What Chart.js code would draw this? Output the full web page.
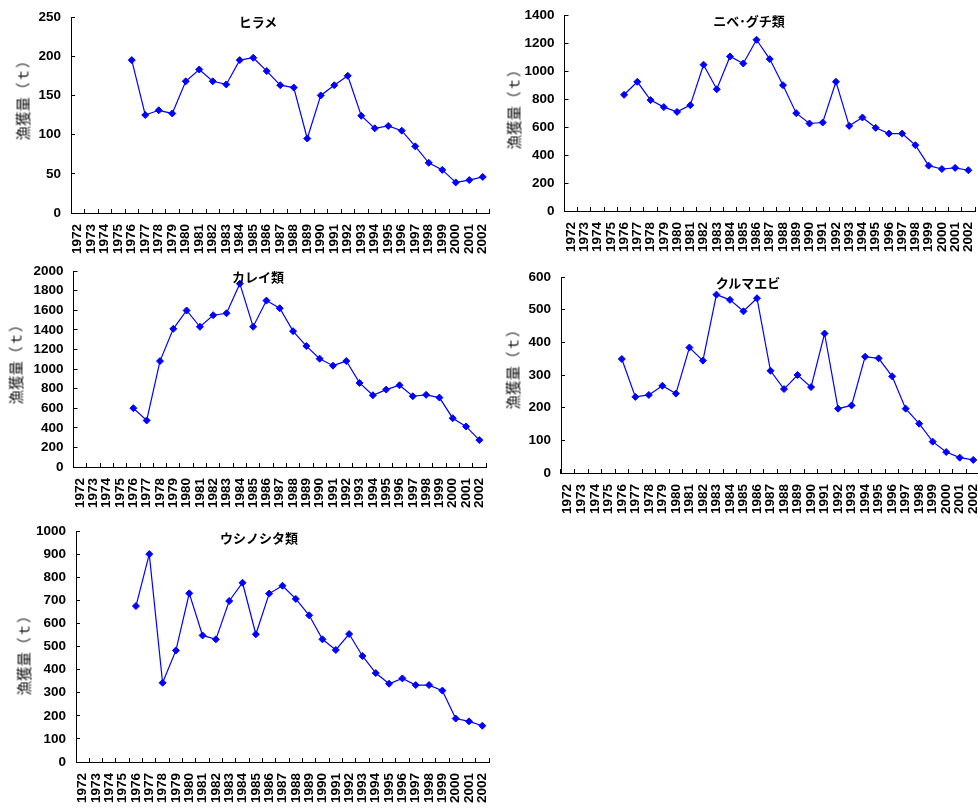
<!DOCTYPE html>
<html lang="ja">
<head>
<meta charset="utf-8">
<title>漁獲量の推移</title>
<script src="https://cdn.jsdelivr.net/npm/chart.js@4.4.1/dist/chart.umd.min.js"></script>
<style>
  html, body { margin: 0; padding: 0; background: #fff; overflow: hidden; }
  body { width: 978px; height: 812px; position: relative; }
  .box { position: absolute; }
  .box canvas { display: block; }
  .title {
    position: absolute; transform: translate(-50%, -50%); white-space: nowrap;
    font: bold 13px 'Noto Sans CJK JP', sans-serif; color: #000;
  }
  .ytitle {
    position: absolute; transform: translate(-50%, -50%) rotate(-90deg); white-space: nowrap;
    font: 14.5px 'Noto Sans CJK JP', sans-serif; color: #111;
  }
</style>
</head>
<body>
<script>
// ====================
// データ (1972〜2002年, 単位: t)
// ====================
const years = ['1972', '1973', '1974', '1975', '1976', '1977', '1978', '1979', '1980', '1981',
  '1982', '1983', '1984', '1985', '1986', '1987', '1988', '1989', '1990', '1991',
  '1992', '1993', '1994', '1995', '1996', '1997', '1998', '1999', '2000', '2001', '2002'];

const hirame = [null, null, null, null, 195, 125, 131, 127, 168, 183,
  168, 164, 195, 198, 181, 163, 160, 95, 150, 163,
  175, 124, 108, 111, 105, 85, 64, 55, 39, 42, 46];

const nibeGuchi = [null, null, null, null, 830, 923, 792, 742, 708, 756,
  1045, 870, 1104, 1054, 1223, 1085, 899, 699, 625, 632,
  923, 608, 668, 594, 553, 553, 470, 324, 300, 308, 291];

const karei = [null, null, null, null, 600, 475, 1081, 1410, 1597, 1431,
  1549, 1569, 1871, 1431, 1698, 1620, 1386, 1234, 1105, 1034,
  1081, 858, 732, 790, 834, 722, 736, 708, 498, 414, 275];

const kurumaEbi = [null, null, null, null, 349, 233, 239, 267, 243, 384,
  344, 546, 530, 495, 535, 313, 257, 300, 263, 427,
  197, 207, 356, 351, 296, 197, 151, 96, 64, 47, 40];

const ushinoshita = [null, null, null, null, 675, 900, 343, 483, 730, 548,
  531, 697, 776, 553, 729, 763, 706, 635, 531, 485,
  554, 459, 385, 339, 362, 333, 333, 309, 188, 176, 157];

const yTitle = '漁獲量（ｔ）';

// ====================
// パネル定義 (位置・軸範囲)
// ====================
const panels = [
  { name: 'ヒラメ', data: hirame, max: 250, step: 50,
    box: [0, 0, 495, 265], yW: 71, padT: 17, padR: 5.5, xH: 52, title: [258, 21], ytitle: [22, 97] },
  { name: 'ニベ･グチ類', data: nibeGuchi, max: 1400, step: 200,
    box: [490, 0, 490, 265], yW: 74.5, padT: 15, padR: 2, xH: 54, title: [749, 20], ytitle: [513, 106] },
  { name: 'カレイ類', data: karei, max: 2000, step: 200,
    box: [0, 260, 492, 265], yW: 73.5, padT: 11, padR: 6, xH: 58, title: [258, 276], ytitle: [15, 361] },
  { name: 'クルマエビ', data: kurumaEbi, max: 600, step: 100,
    box: [490, 265, 495, 260], yW: 71, padT: 12, padR: 4, xH: 52, title: [748, 282], ytitle: [512, 366] },
  { name: 'ウシノシタ類', data: ushinoshita, max: 1000, step: 100,
    box: [0, 515, 495, 297], yW: 76, padT: 16, padR: 6, xH: 50, title: [259, 537], ytitle: [23, 652] }
];

const tickFont = { family: "'Liberation Sans', Arial, sans-serif", size: 13.5, weight: 'bold' };

function addText(cls, text, pos) {
  const el = document.createElement('div');
  el.className = cls;
  el.textContent = text;
  el.style.left = pos[0] + 'px';
  el.style.top = pos[1] + 'px';
  document.body.appendChild(el);
}

// 折れ線グラフを1枚描画する
function drawPanel(p) {
  const box = document.createElement('div');
  box.className = 'box';
  box.style.left = p.box[0] + 'px';
  box.style.top = p.box[1] + 'px';
  const canvas = document.createElement('canvas');
  canvas.width = p.box[2];
  canvas.height = p.box[3];
  box.appendChild(canvas);
  document.body.appendChild(box);

  new Chart(canvas, {
    type: 'line',
    data: {
      labels: years,
      datasets: [{
        label: p.name,
        data: p.data,
        borderColor: '#0000ff',
        borderWidth: 1.2,
        tension: 0,
        pointStyle: 'rectRot',
        pointRadius: 3.5,
        pointBackgroundColor: '#0000ff',
        pointBorderColor: '#0000ff',
        pointBorderWidth: 1
      }]
    },
    options: {
      responsive: false,
      animation: false,
      devicePixelRatio: 1,
      layout: { padding: { top: p.padT, right: p.padR, left: 0, bottom: 0 } },
      plugins: { legend: { display: false }, tooltip: { enabled: false }, title: { display: false } },
      scales: {
        x: {
          type: 'category',
          offset: true,
          grid: { offset: true, drawOnChartArea: false, drawTicks: true, tickLength: -4, color: '#000', lineWidth: 1 },
          border: { display: true, color: '#000', width: 1 },
          ticks: { autoSkip: false, minRotation: 90, maxRotation: 90, padding: 15, color: '#000', font: tickFont },
          afterFit: s => { s.height = p.xH; s.paddingLeft = 0; s.paddingRight = 0; }
        },
        y: {
          min: 0,
          max: p.max,
          ticks: { stepSize: p.step, padding: 14, color: '#000', font: tickFont, callback: v => String(v) },
          grid: { drawOnChartArea: false, drawTicks: true, tickLength: -4, color: '#000', lineWidth: 1 },
          border: { display: true, color: '#000', width: 1 },
          afterFit: s => { s.width = p.yW; s.paddingTop = 0; s.paddingBottom = 0; }
        }
      }
    }
  });

  addText('title', p.name, p.title);
  addText('ytitle', yTitle, p.ytitle);
}

panels.forEach(drawPanel);
</script>
</body>
</html>
